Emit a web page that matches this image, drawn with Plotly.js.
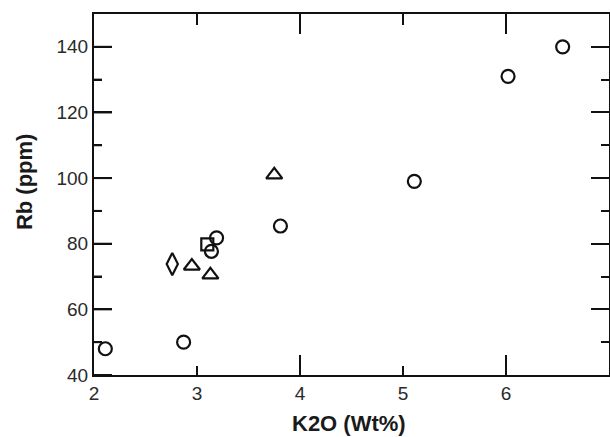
<!DOCTYPE html>
<html>
<head>
<meta charset="utf-8">
<script src="https://cdn.plot.ly/plotly-3.0.1.min.js"></script>
<style>html,body{margin:0;padding:0;background:#fff;}#chart{width:610px;height:437px;}</style>
</head>
<body>
<div id="chart"></div>
<script>
// K2O (Wt%) vs Rb (ppm), grouped by marker symbol
const circleK2O = [2.11, 2.87, 3.14, 3.19, 3.81, 5.11, 6.02, 6.55];
const circleRb  = [48, 50, 77.7, 81.8, 85.4, 99, 131, 140];
const triangleK2O = [2.95, 3.13, 3.75];
const triangleRb  = [73.2, 70.5, 101];
const squareK2O = [3.10];
const squareRb  = [79.8];
const diamondK2O = [2.76];
const diamondRb  = [73.8];

const xTickVals = [2, 3, 4, 5, 6, 7];
const xShortTickVals = [3, 5];
const xLongTickVals = [4, 6];
const yTickVals = [40, 60, 80, 100, 120, 140];
const yMinorTickVals = [50, 70, 90, 110, 130];

const xRange = [2, 7];
const yRange = [40, 150];
const M = {l: 94, r: 1, t: 14, b: 62};
const W = 610, H = 437;
const xPerPx = (xRange[1] - xRange[0]) / (W - M.l - M.r);
const yPerPx = (yRange[1] - yRange[0]) / (H - M.t - M.b);

// tick marks on the left / bottom / top frame edges, built from the tick arrays
const tx = [], ty = [];
const hSeg = (v, len) => { tx.push(xRange[0], xRange[0] + len * xPerPx, null); ty.push(v, v, null); };
const vSegBottom = (v, len) => { tx.push(v, v, null); ty.push(yRange[0], yRange[0] + len * yPerPx, null); };
const vSegTop = (v, len) => { tx.push(v, v, null); ty.push(yRange[1] - len * yPerPx, yRange[1], null); };
yTickVals.forEach(v => hSeg(v, 18));
yMinorTickVals.forEach(v => hSeg(v, 8));
xShortTickVals.forEach(v => { vSegBottom(v, 9); vSegTop(v, 11); });
xLongTickVals.forEach(v => { vSegBottom(v, 20); vSegTop(v, 20); });

const mk = (sym, size) => ({symbol: sym, size: size, color: '#111', line: {color: '#111', width: 2.2}});

const traces = [
  {x: tx, y: ty, mode: 'lines', type: 'scatter', line: {color: '#111', width: 2}, hoverinfo: 'skip', connectgaps: false},
  {x: circleK2O, y: circleRb, mode: 'markers', type: 'scatter', marker: mk('circle-open', 13)},
  {x: triangleK2O, y: triangleRb, mode: 'markers', type: 'scatter', marker: mk('triangle-up-open', 14)},
  {x: squareK2O, y: squareRb, mode: 'markers', type: 'scatter', marker: mk('square-open', 12)},
  {x: diamondK2O, y: diamondRb, mode: 'markers', type: 'scatter', marker: mk('diamond-tall-open', 16)}
];

const tickFont = {family: 'Liberation Sans, Arial, sans-serif', size: 19, color: '#2a2a2a'};
const titleFont = {family: 'Liberation Sans, Arial, sans-serif', size: 22, color: '#1a1a1a'};

const layout = {
  width: W, height: H,
  margin: M,
  paper_bgcolor: '#fff', plot_bgcolor: '#fff',
  showlegend: false,
  xaxis: {
    range: xRange, tickvals: xTickVals, ticktext: xTickVals.map(String),
    ticks: 'inside', ticklen: 9, tickwidth: 2, tickcolor: '#111',
    showline: true, linecolor: '#111', linewidth: 2, mirror: 'ticks',
    showgrid: false, zeroline: false, tickfont: tickFont
  },
  yaxis: {
    range: yRange, tickvals: yTickVals, ticktext: yTickVals.map(String),
    ticks: 'inside', ticklen: 18, tickwidth: 2, tickcolor: '#111',
    minor: {dtick: 10, tick0: 40, ticks: 'inside', ticklen: 8, tickwidth: 2, tickcolor: '#111'},
    showline: true, linecolor: '#111', linewidth: 2, mirror: 'ticks',
    showgrid: false, zeroline: false, tickfont: tickFont
  },
  annotations: [
    {text: '<b>K2O (Wt%)</b>', xref: 'paper', yref: 'paper', x: 0.495, y: -0.094,
     xanchor: 'center', yanchor: 'top', showarrow: false, font: titleFont},
    {text: '<b>Rb (ppm)</b>', xref: 'paper', yref: 'paper', x: -0.136, y: 0.537,
     xanchor: 'center', yanchor: 'middle', textangle: -90, showarrow: false, font: titleFont}
  ]
};

Plotly.newPlot('chart', traces, layout, {staticPlot: true, displayModeBar: false});
</script>
</body>
</html>
